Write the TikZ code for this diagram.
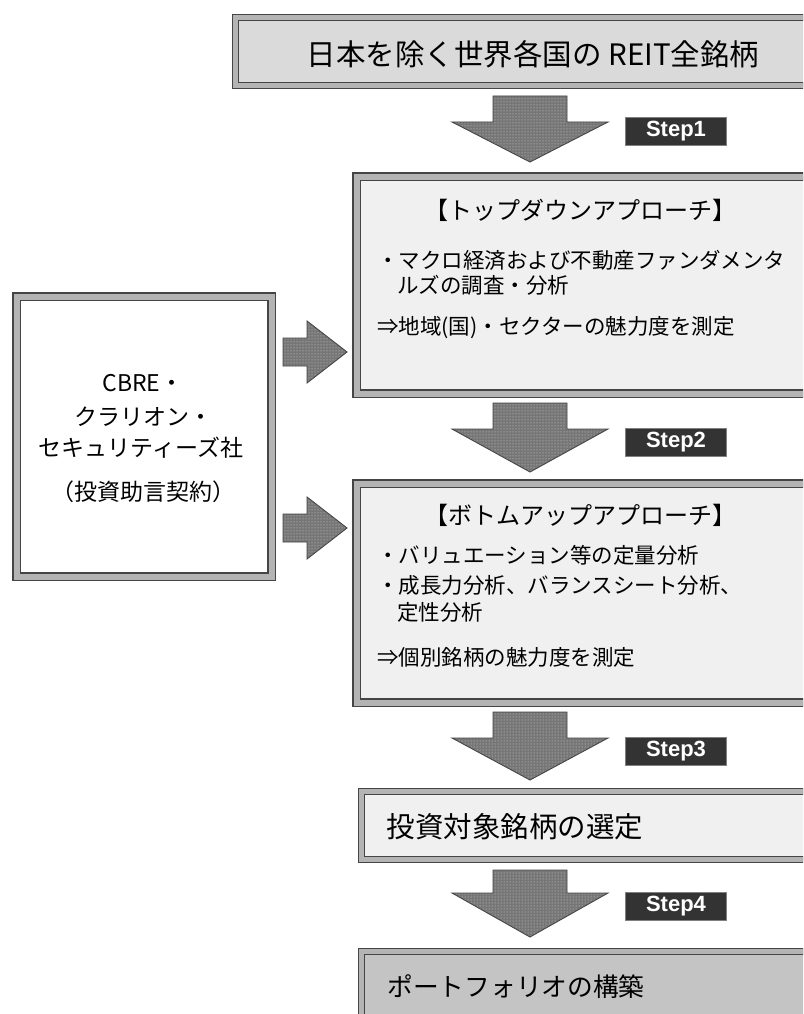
\documentclass[tikz,border=0pt]{standalone}
\usepackage{fontspec}
\setmainfont{Noto Sans CJK JP}
\newfontfamily\stepfont{Liberation Sans}
\usetikzlibrary{patterns}
\definecolor{framedark}{HTML}{454545}
\definecolor{framemid}{HTML}{B4B4B4}
\definecolor{topfill}{HTML}{DADADA}
\definecolor{lightfill}{HTML}{F0F0F0}
\definecolor{darkfill}{HTML}{C4C4C4}
\definecolor{arrowfill}{HTML}{767676}
\definecolor{arrowdot}{HTML}{D8D8D8}
\definecolor{stepfill}{HTML}{333333}
\tikzset{
  flatbox/.style={draw=framedark, double=framemid, double distance=5pt, line width=1.1pt, rectangle, inner sep=0pt, anchor=north west},
  bevelbox/.style={draw=framedark, double=framemid, double distance=6pt, line width=1.2pt, rectangle, inner sep=0pt, anchor=north west},
  blockarrow/.style={draw=framedark, line width=0.9pt, line join=miter, preaction={fill=arrowfill}, pattern=dots, pattern color=arrowdot},
  steplabel/.style={fill=stepfill, draw=gray, line width=0.6pt, minimum width=101pt, minimum height=28pt, inner sep=0pt, text=white, font=\stepfont\bfseries\fontsize{22}{22}\selectfont},
  bigtext/.style={inner sep=0pt, font=\fontsize{29.5}{29.5}\selectfont},
  midtext/.style={inner sep=0pt, font=\fontsize{28.5}{28.5}\selectfont},
  smalltext/.style={inner sep=0pt, font=\fontsize{25.7}{25.7}\selectfont},
  bodytext/.style={inner sep=0pt, anchor=west, font=\fontsize{21.5}{21.5}\selectfont},
  titletext/.style={inner sep=0pt, font=\fontsize{24}{24}\selectfont},
  sidetext/.style={inner sep=0pt, font=\fontsize{23}{23}\selectfont},
}
\newcommand\blockdown[5]{% name, cx, top, headbase, tip
  \draw[blockarrow] (#2-37,#3) -- (#2+37,#3) -- (#2+37,#4) -- (#2+78,#4) -- (#2,#5) -- (#2-78,#4) -- (#2-37,#4) -- cycle;
  \coordinate (#1) at (#2,#5);}
\newcommand\blockright[2]{% name, cy
  \draw[blockarrow] (283,#2-14) -- (307,#2-14) -- (307,#2-31) -- (347,#2) -- (307,#2+31) -- (307,#2+14) -- (283,#2+14) -- cycle;
  \coordinate (#1) at (347,#2);}
\begin{document}
\begin{tikzpicture}[x=1pt,y=-1pt]
\useasboundingbox (0,0) rectangle (803,1014);
\clip (0,0) rectangle (803,1014);
\fill[white] (0,0) rectangle (803,1014);

% top box
\node[flatbox, fill=topfill, minimum width=580pt, minimum height=68pt] (all) at (235,17) {};
\node[bigtext] (allt) at (533,54) {日本を除く世界各国の REIT全銘柄};

% step 1
\blockdown{a1}{530}{96}{122}{162}
\node[steplabel] (s1) at (676,131.5) {Step1};

% top-down box
\node[bevelbox, fill=lightfill, minimum width=452pt, minimum height=217pt] (td) at (356,176) {};
\node[titletext] (tdt) at (580,210) {【トップダウンアプローチ】};
\node[bodytext] (td1) at (377,260) {・マクロ経済および不動産ファンダメンタ};
\node[bodytext] (td2) at (397,285) {ルズの調査・分析};
\node[bodytext] (td3) at (377,328) {⇒地域(国)・セクターの魅力度を測定};

% step 2
\blockdown{a2}{530}{403}{429}{472}
\node[steplabel] (s2) at (676,442.5) {Step2};

% bottom-up box
\node[bevelbox, fill=lightfill, minimum width=452pt, minimum height=219pt] (bu) at (356,483) {};
\node[titletext] (but) at (580,515) {【ボトムアップアプローチ】};
\node[bodytext] (bu1) at (377,555) {・バリュエーション等の定量分析};
\node[bodytext] (bu2) at (377,585) {・成長力分析、バランスシート分析、};
\node[bodytext] (bu3) at (397,612) {定性分析};
\node[bodytext] (bu4) at (377,657) {⇒個別銘柄の魅力度を測定};

% advisor box
\node[bevelbox, fill=white, minimum width=255pt, minimum height=280pt] (cb) at (16,296) {};
\node[sidetext] (cb1) at (143,383) {CBRE・};
\node[sidetext] (cb2) at (143,417) {クラリオン・};
\node[sidetext] (cb3) at (141,448) {セキュリティーズ社};
\node[sidetext] (cb4) at (143,492) {（投資助言契約）};

% right arrows
\blockright{r1}{352}
\blockright{r2}{528}

% step 3
\blockdown{a3}{530}{712}{738}{780}
\node[steplabel] (s3) at (676,751) {Step3};

% selection box
\node[flatbox, fill=lightfill, minimum width=455pt, minimum height=68pt] (sel) at (361,791) {};
\node[midtext] (selt) at (515,827) {投資対象銘柄の選定};

% step 4
\blockdown{a4}{530}{870}{893}{937}
\node[steplabel] (s4) at (676,906.5) {Step4};

% portfolio box
\node[flatbox, fill=darkfill, minimum width=455pt, minimum height=90pt] (pf) at (361,951) {};
\node[smalltext] (pft) at (516,987) {ポートフォリオの構築};
\end{tikzpicture}
\end{document}
